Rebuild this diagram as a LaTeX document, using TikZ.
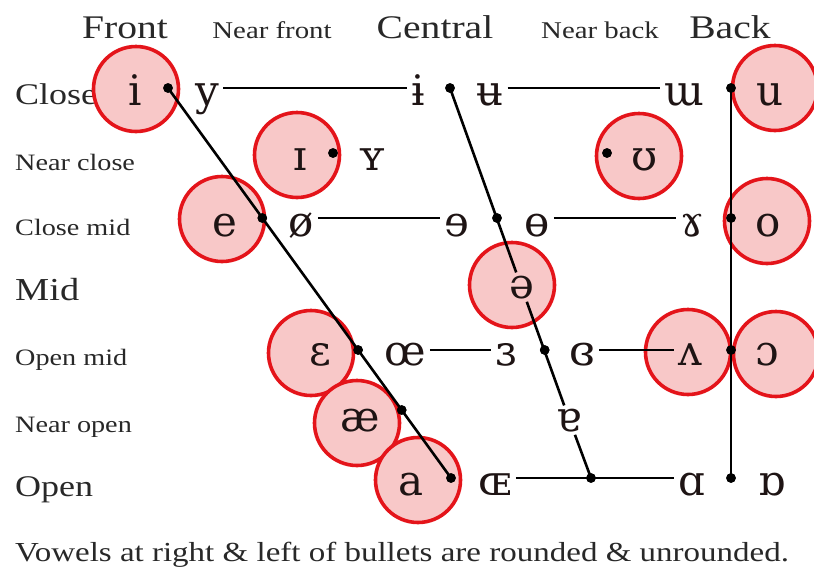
\documentclass[tikz,border=0pt]{standalone}
\usepackage{fontspec}
\setmainfont[FakeStretch=1.2]{Liberation Serif}
\newfontfamily\ipa{DejaVu Serif}
\definecolor{cred}{RGB}{228,20,26}
\definecolor{cpink}{RGB}{248,200,200}
\definecolor{labgray}{RGB}{40,40,40}
\definecolor{symcol}{RGB}{30,20,20}
\tikzset{
  lab/.style={text=labgray, inner sep=0pt, anchor=base},
  bigl/.style={lab, font=\fontsize{33}{36}\selectfont},
  rowl/.style={lab, anchor=base west, font=\fontsize{30}{34}\selectfont},
  smalll/.style={lab, font=\fontsize{24}{28}\selectfont},
  smallrow/.style={lab, anchor=base west, font=\fontsize{23.5}{28}\selectfont},
  sym/.style={font=\ipa\fontsize{42}{46}\selectfont, text=symcol, inner sep=4pt, anchor=base},
  vc/.style={circle, draw=cred, fill=cpink, line width=3.6pt, minimum size=85pt, inner sep=0pt},
  dotn/.style={circle, fill=black, minimum size=9.5pt, inner sep=0pt},
  ln/.style={line width=2.6pt, black}
}
\begin{document}
\begin{tikzpicture}[x=1pt,y=-1pt]
\useasboundingbox (0,0) rectangle (814,568);
% headers
\node[bigl] (hF) at (125,38) {Front};
\node[smalll] (hNF) at (272,38) {Near front};
\node[bigl] (hC) at (435,38) {Central};
\node[smalll] (hNB) at (600,38) {Near back};
\node[bigl] (hB) at (730,38) {Back};
% row labels
\node[rowl] (rClose) at (15,104) {Close};
\node[smallrow] (rNC) at (15,170) {Near close};
\node[smallrow] (rCM) at (15,235) {Close mid};
\node[rowl, font=\fontsize{32}{36}\selectfont] (rMid) at (15,300) {Mid};
\node[smallrow] (rOM) at (15,365) {Open mid};
\node[smallrow] (rNO) at (15,432) {Near open};
\node[rowl] (rOpen) at (15,496) {Open};
% circles
\node[vc] (ci) at (136,89) {};
\node[vc] (cI) at (297,155) {};
\node[vc] (cu) at (775,88) {};
\node[vc] (cU) at (639,156) {};
\node[vc] (ce) at (222,219) {};
\node[vc] (co) at (767,221) {};
\node[vc] (cschwa) at (512,285) {};
\node[vc] (cE) at (311,353) {};
\node[vc] (cV) at (688,352) {};
\node[vc] (cO) at (776,354) {};
\node[vc] (cae) at (357,423) {};
\node[vc] (ca) at (418,480) {};
% bullets (positions)
\node[dotn] (b1) at (168,88) {};
\node[dotn] (b2) at (450,88) {};
\node[dotn] (b3) at (731,88) {};
\node[dotn] (bI) at (333,153) {};
\node[dotn] (bU) at (607,153) {};
\node[dotn] (b4) at (262.3,218) {};
\node[dotn] (b5) at (497,218) {};
\node[dotn] (b6) at (731,218) {};
\node[dotn] (b7) at (358.1,350) {};
\node[dotn] (b8) at (544.7,350) {};
\node[dotn] (b9) at (731,350) {};
\node[dotn] (b10) at (401.7,410) {};
\node[dotn] (b11) at (451,478) {};
\node[dotn] (b12) at (591,478) {};
\node[dotn] (b13) at (731,478) {};
% symbols
\node[sym] (si) at (135,105) {i};
\node[sym] (sy) at (207,105) {y};
\node[sym] (sibar) at (418,105) {ɨ};
\node[sym] (subar) at (490,105) {ʉ};
\node[sym] (sm) at (684,105) {ɯ};
\node[sym] (su) at (770,105) {u};
\node[sym] (sI) at (300,170) {ɪ};
\node[sym] (sY) at (372,170) {ʏ};
\node[sym] (sU) at (645,170) {ʊ};
\node[sym] (se) at (225,236) {e};
\node[sym] (soo) at (301,236) {ø};
\node[sym] (srev) at (457,236) {ɘ};
\node[sym] (sbaro) at (537,236) {ɵ};
\node[sym] (sram) at (692,236) {ɤ};
\node[sym] (so) at (768,236) {o};
\node[sym, inner sep=3pt] (sschwa) at (521.5,298) {ə};
\node[sym] (seps) at (320,365) {ɛ};
\node[sym] (soe) at (405,365) {œ};
\node[sym] (srevEps) at (506,365) {ɜ};
\node[sym] (sclRev) at (582,365) {ɞ};
\node[sym] (sV) at (690,365) {ʌ};
\node[sym] (sO) at (767,365) {ɔ};
\node[sym] (sae) at (360,431) {æ};
\node[sym, inner sep=3pt] (sturna) at (569.5,431) {ɐ};
\node[sym] (sa) at (411,495) {a};
\node[sym] (sOE) at (495,495) {ɶ};
\node[sym] (salpha) at (692,495) {ɑ};
\node[sym] (sturnalpha) at (772,495) {ɒ};
% connectors
\begin{scope}[ln]
\draw (b1.center) -- (b11.center);
\draw (b2.center) -- (sschwa) -- (sturna) -- (b12.center);
\draw (b3.center) -- (b13.center);
\draw (sy.east |- b1) -- (sibar.west |- b1);
\draw (subar.east |- b2) -- (sm.west |- b2);
\draw (soo.east |- b4) -- (srev.west |- b4);
\draw (sbaro.east |- b5) -- (sram.west |- b5);
\draw (soe.east |- b7) -- (srevEps.west |- b7);
\draw (sclRev.east |- b8) -- (sV.west |- b8);
\draw (sOE.east |- b11) -- (b12.center) -- (salpha.west |- b11);
\end{scope}
% redraw bullets on top
\foreach \b in {b1,b2,b3,bI,bU,b4,b5,b6,b7,b8,b9,b10,b11,b12,b13}
  \fill (\b) circle (4.8pt);
% caption
\node[lab, anchor=base west, font=\fontsize{27.5}{32}\selectfont] (cap) at (15,561) {Vowels at right \& left of bullets are rounded \& unrounded.};
\end{tikzpicture}
\end{document}
